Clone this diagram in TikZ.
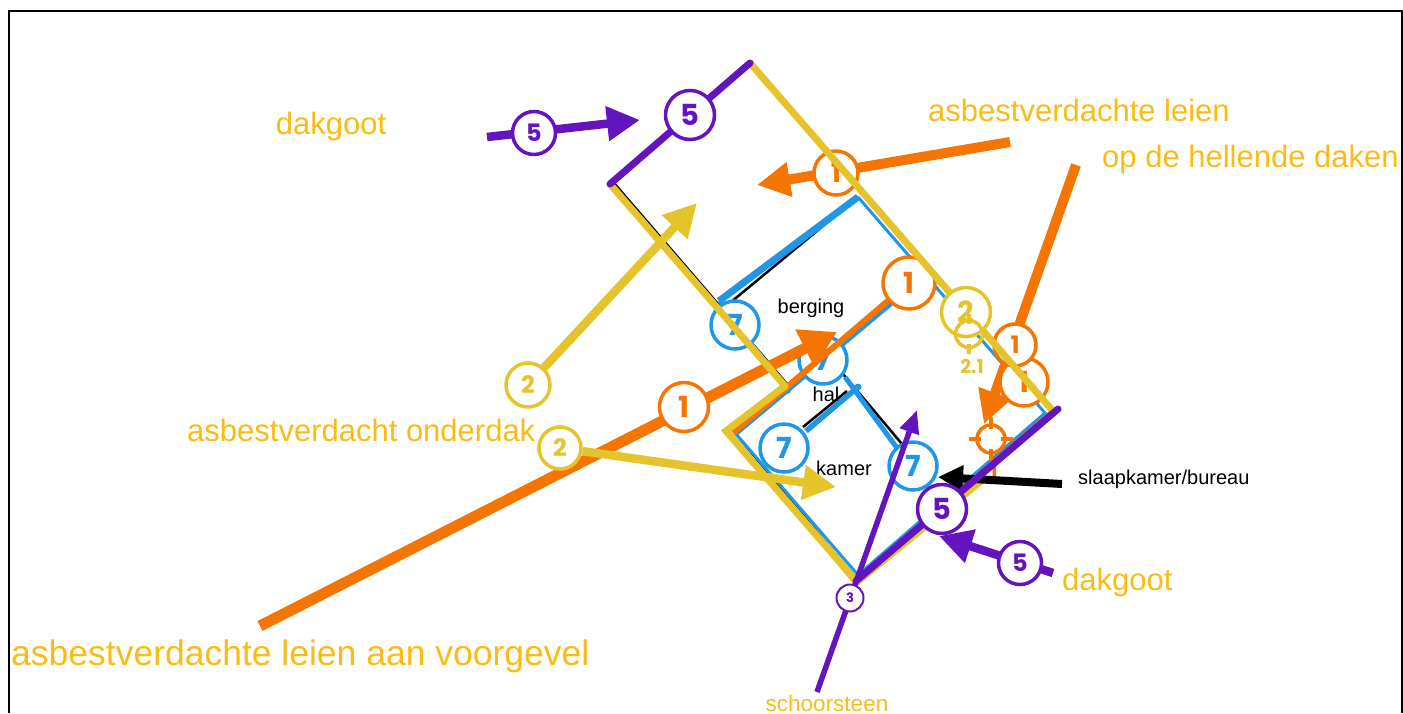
\documentclass[tikz,border=0pt]{standalone}
\usepackage{fontspec}
\setmainfont{Liberation Sans}
\newfontfamily\digitfont{Poppins}[UprightFont=* SemiBold,BoldFont=* Bold]
\usetikzlibrary{arrows.meta}
\definecolor{dakgeel}{HTML}{E5C32B}
\definecolor{tekstgeel}{HTML}{F9BC15}
\definecolor{dakoranje}{HTML}{F57500}
\definecolor{dakblauw}{HTML}{1F96E6}
\definecolor{dakpaars}{HTML}{6414BE}
\tikzset{
  marker/.style={circle, draw=#1, text=#1, fill=white, line width=3.5pt, inner sep=0pt, font=\digitfont},
  bigmark/.style={marker=#1, minimum size=48pt, font=\digitfont\bfseries\fontsize{29}{29}\selectfont},
  midmark/.style={marker=#1, minimum size=42pt, font=\digitfont\bfseries\fontsize{24}{24}\selectfont},
  target/.style={circle, draw=#1, line width=3.5pt, inner sep=0pt},
  geel/.style={text=tekstgeel, inner sep=0pt},
  pijl/.style={draw=#1, line width=10pt, -{Triangle[length=33pt,width=33pt,fill=#1]}},
  zwart/.style={text=black, inner sep=0pt, font=\fontsize{20}{20}\selectfont},
  dakrand/.style={line width=#1, line cap=round, line join=miter}
}
\begin{document}
\begin{tikzpicture}[x=1pt, y=-1pt]
  \useasboundingbox (0,0) rectangle (1403,713);
  \draw[line width=2.6pt] (9,713) -- (9,11) -- (1402,11) -- (1402,713);

  % plattegrond
  \coordinate (top) at (750,63);
  \coordinate (links) at (610,184);
  \coordinate (knik) at (785,386);
  \coordinate (voor) at (736,434);
  \coordinate (onder) at (856,581);
  \coordinate (onderB) at (858,575);
  \coordinate (rechts) at (1045,413);
  \coordinate (blauwA) at (858,197);
  \coordinate (blauwB) at (719,301);
  \coordinate (halA) at (858,387);
  \coordinate (halB) at (845,376);
  \coordinate (muurA) at (915,284);

  \draw[line width=2.5pt] (blauwA) -- (731,302);
  \draw[line width=2.5pt] (613,182) -- (787,384) (voor) -- (855,578);
  \draw[line width=2.5pt] (843,374) -- (902,444) (847,391) -- (803,427);
  \draw[dakblauw, line width=7pt] (blauwB) -- (blauwA);
  \draw[dakblauw, line width=3pt] (blauwA) -- (rechts) -- (onderB) -- (voor) (blauwB) -- (knik);
  \draw[dakblauw, line width=4pt] (voor) -- (muurA);
  \draw[dakblauw, line width=5pt] (845,377) -- (897,448);
  \draw[dakblauw, line width=5.5pt] (halA) -- (806,431);
  \fill[dakblauw] (halA) circle (3.5pt) (787,390) circle (4pt);

  \node[bigmark=dakblauw] (zevenA) at (735,325) {7};
  \node[bigmark=dakblauw] (zevenB) at (823,360) {7};
  \node[bigmark=dakblauw] (zevenC) at (784,448) {7};
  \node[bigmark=dakblauw] (zevenD) at (913,466) {7};

  \node[zwart] (berging) at (811,308) {berging};
  \node[zwart] (hal) at (826,394) {hal};
  \node[zwart] (kamer) at (844,468) {kamer};
  \node[zwart, anchor=west] (slaap) at (1078,479) {slaapkamer/bureau};

  % oranje
  \draw[dakoranje, line width=3pt] (links) -- (knik) (728,432) -- (854,582);
  \draw[dakoranje, line width=6pt] (733,433) -- (910,282);
  \draw[dakoranje, line width=6pt] (onder) -- (1054,411);
  \coordinate (leienS) at (1010,142);
  \coordinate (leienE) at (757,185);
  \coordinate (gevelS) at (260,626);
  \coordinate (gevelE) at (837,332);
  \coordinate (hellS) at (1076,165);
  \coordinate (hellE) at (984,424);
  \draw[pijl=dakoranje] (leienS) -- (leienE);
  \draw[pijl=dakoranje, line width=11pt, -{Triangle[length=36pt,width=40pt,fill=dakoranje]}] (gevelS) -- (gevelE);
  \draw[pijl=dakoranje] (hellS) -- (hellE);

  \node[marker=dakoranje, minimum size=44pt, font=\digitfont\bfseries\fontsize{27}{27}\selectfont] (eenA) at (836,173) {1};
  \node[bigmark=dakoranje, minimum size=52pt] (eenB) at (909,283) {1};
  \node[bigmark=dakoranje, minimum size=49pt] (eenC) at (684,407) {1};
  \node[bigmark=dakoranje] (eenE) at (1024,382) {1};
  \node[midmark=dakoranje] (eenD) at (1015,345) {1};
  \node[target=dakoranje, minimum size=28pt] (richt) at (991,439) {};
  \draw[dakoranje, line width=4pt] (richt.north) ++(0,-6) -- ++(0,12) (richt.south) ++(0,-6) -- ++(0,12);
  \draw[dakoranje, line width=4pt] (richt.west) ++(-6,0) -- ++(12,0) (richt.east) ++(-6,0) -- ++(12,0);
  \node[text=dakoranje, inner sep=0pt, font=\digitfont\fontsize{25}{25}\selectfont] (eenF) at (994,471) {1};

  % geel
  \draw[dakgeel, dakrand=7pt] (links) -- (knik) (top) -- (1052,410);
  \draw[dakgeel, dakrand=7pt, line cap=butt] (knik) -- (726,431) -- (857,582) -- (986,477);
  \draw[dakgeel, line width=3pt] (613,180) -- (753,61);
  \node[midmark=dakgeel, minimum size=44pt] (tweeA) at (528,385) {2};
  \node[midmark=dakgeel] (tweeB) at (560,448) {2};
  \coordinate (onderE) at (697,203);
  \coordinate (kamerE) at (836,487);
  \draw[pijl=dakgeel, line width=8.5pt] (tweeA) -- (onderE);
  \draw[pijl=dakgeel, line width=8.5pt] (tweeB) -- (kamerE);
  \node[bigmark=dakgeel, minimum size=49pt] (tweeC) at (966,312) {2};
  \node[target=dakgeel, minimum size=27pt] (tweeT) at (969,334) {};
  \draw[dakgeel, line width=3.5pt] (tweeT.north) ++(0,-5) -- ++(0,10) (tweeT.south) ++(0,-5) -- ++(0,10);
  \node[text=dakgeel, inner sep=0pt, font=\digitfont\bfseries\fontsize{19}{19}\selectfont] (tweeL) at (972,366) {2.1};

  % zwarte pijl
  \coordinate (slaapS) at (1062,484);
  \coordinate (slaapE) at (938,477);
  \draw[draw=black, line width=8pt, -{Triangle[length=25pt,width=25pt]}] (slaapS) -- (slaapE);

  % paars
  \draw[dakpaars, dakrand=7pt] (links) -- (top) (onder) -- (1058,409);
  \coordinate (gootS) at (487,137);
  \coordinate (gootE) at (640,120);
  \coordinate (gootT) at (1053,573);
  \coordinate (gootU) at (939,536);
  \coordinate (schoorS) at (817,692);
  \coordinate (schoorE) at (917,410);
  \draw[pijl=dakpaars, line width=8.5pt] (gootS) -- (gootE);
  \draw[pijl=dakpaars, line width=8.5pt] (gootT) -- (gootU);
  \draw[draw=dakpaars, line width=5.5pt, -{Triangle[length=23pt,width=19pt,fill=dakpaars]}] (schoorS) -- (schoorE);
  \node[bigmark=dakpaars, minimum size=49pt] (vijfA) at (690,115) {5};
  \node[midmark=dakpaars, minimum size=43pt] (vijfB) at (534,133) {5};
  \node[bigmark=dakpaars, minimum size=49pt] (vijfC) at (942,509) {5};
  \node[midmark=dakpaars, minimum size=43pt] (vijfD) at (1020,563) {5};
  \node[marker=dakpaars, line width=2pt, minimum size=27pt, font=\digitfont\bfseries\fontsize{13}{13}\selectfont] (drie) at (850,598) {3};

  % teksten
  \node[geel, font=\fontsize{31}{31}\selectfont] (dakgootA) at (331,126) {dakgoot};
  \node[geel, font=\fontsize{31}{31}\selectfont, anchor=west] (leien) at (928,110) {asbestverdachte leien};
  \node[geel, font=\fontsize{31}{31}\selectfont, anchor=west] (hellend) at (1102,159) {op de hellende daken};
  \node[geel, font=\fontsize{31}{31}\selectfont, anchor=west] (onderdak) at (187,430) {asbestverdacht onderdak};
  \node[geel, font=\fontsize{31}{31}\selectfont, anchor=west] (dakgootB) at (1062,582) {dakgoot};
  \node[geel, font=\fontsize{35.5}{35.5}\selectfont, anchor=west] (voorgevel) at (11,656) {asbestverdachte leien aan voorgevel};
  \node[geel, font=\fontsize{22.5}{22.5}\selectfont] (schoorsteen) at (827,703) {schoorsteen};
\end{tikzpicture}
\end{document}
